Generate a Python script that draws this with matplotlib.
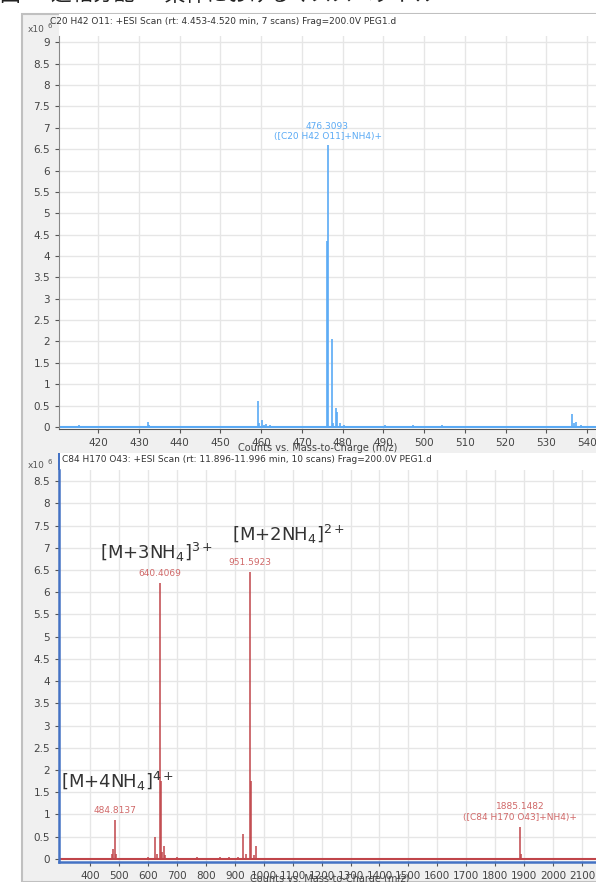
import matplotlib.pyplot as plt
from matplotlib.patches import Rectangle

plt.rcParams['font.family'] = ['DejaVu Sans']

# top spectrum: C20 H42 O11
top_mz = [413.3, 415.3, 432.3, 432.6, 446.3, 459.3, 459.6, 460.3, 460.6, 461.3, 462.3,
          476.22, 476.31, 477.31, 477.6, 478.31, 478.6, 479.3, 480.3, 490.3, 497.3,
          504.3, 518.3, 536.4, 536.7, 537.4, 538.4]
top_int = [0.03, 0.04, 0.12, 0.05, 0.03, 0.6, 0.08, 0.15, 0.05, 0.06, 0.05,
           4.35, 6.6, 2.05, 0.1, 0.45, 0.35, 0.08, 0.05, 0.04, 0.04,
           0.04, 0.03, 0.3, 0.08, 0.12, 0.04]
top_label = "476.3093\n([C20 H42 O11]+NH4)+"
top_title = "C20 H42 O11: +ESI Scan (rt: 4.453-4.520 min, 7 scans) Frag=200.0V PEG1.d"
top_xticks = list(range(420, 541, 10))
top_yticks = [i * 0.5 for i in range(19)]

# bottom spectrum: C84 H170 O43
bot_mz = [385, 475, 480, 484.81, 490, 575, 600, 625.0, 630, 640.41, 645, 650, 655.0, 660,
          700, 770, 800, 850, 880, 910, 930.0, 940, 951.59, 955.6, 965, 975.0,
          1840, 1885.15, 1890, 1930]
bot_int = [0.02, 0.12, 0.22, 0.87, 0.1, 0.02, 0.04, 0.5, 0.12, 6.2, 1.75, 0.15, 0.3, 0.08,
           0.04, 0.04, 0.03, 0.04, 0.04, 0.05, 0.55, 0.12, 6.45, 1.75, 0.08, 0.3,
           0.03, 0.72, 0.1, 0.03]
bot_labels = [(484.8137, 0.87, "484.8137"), (640.4069, 6.2, "640.4069"),
              (951.5923, 6.45, "951.5923"), (1885.1482, 0.72, "1885.1482\n([C84 H170 O43]+NH4)+")]
bot_ions = [("[M+3NH$_4$]$^{3+}$", 435, 6.9), ("[M+2NH$_4$]$^{2+}$", 891, 7.3),
            ("[M+4NH$_4$]$^{4+}$", 300, 1.75)]
bot_title = "C84 H170 O43: +ESI Scan (rt: 11.896-11.996 min, 10 scans) Frag=200.0V PEG1.d"
bot_xticks = list(range(400, 2101, 100))
bot_yticks = [i * 0.5 for i in range(18)]

W, H = 596, 882
fig = plt.figure(figsize=(W / 100, H / 100), dpi=100)


def box(x0, y0, x1, y1):
    # pixel box (top-left origin) -> figure fraction
    return [x0 / W, 1 - y1 / H, (x1 - x0) / W, (y1 - y0) / H]


# gray frame behind both panels
fig.patches.append(Rectangle((22 / W, 0), 1, 1 - 14 / H, transform=fig.transFigure,
                             facecolor='#f0f0f0', edgecolor='#c0c0c0', lw=1.5, zorder=-10))
# white title strips
fig.patches.append(Rectangle((59 / W, 1 - 36 / H), 1, 22 / H, transform=fig.transFigure,
                             facecolor='white', edgecolor='none', zorder=-9))
fig.patches.append(Rectangle((59 / W, 1 - 470 / H), 1, 17 / H, transform=fig.transFigure,
                             facecolor='white', edgecolor='none', zorder=-9))
# blue selection bar beside the lower title
fig.patches.append(Rectangle((58 / W, 1 - 470 / H), 2 / W, 17 / H, transform=fig.transFigure,
                             facecolor='#4472c4', edgecolor='none', zorder=-8))

# clipped caption at the very top
fig.text(0.0, 1 + 5 / H, "図 　 逆相分配 　 条件におけるマススペクトル", fontsize=15,
         family=['Noto Sans CJK JP', 'DejaVu Sans'], va='center', ha='left', color='#222')

tick_kw = dict(labelsize=7.5, labelcolor='#444', color='#555', length=3, width=0.8)

# ---- top panel
ax1 = fig.add_axes(box(59, 36, 596, 429))
ax1.vlines(top_mz, 0, top_int, color='#5aaaf5', lw=1.2)
ax1.axhline(0, color='#5aaaf5', lw=1.5)
ax1.set_xlim(410.4, 542.2)
ax1.set_ylim(-0.05, 9.15)
ax1.set_xticks(top_xticks)
ax1.set_yticks(top_yticks)
ax1.set_yticklabels([f"{v:g}" for v in top_yticks])
ax1.grid(True, color='#e6e6e6', lw=1)
ax1.set_axisbelow(True)
ax1.tick_params(**tick_kw)
for s in ['top', 'right']:
    ax1.spines[s].set_visible(False)
ax1.spines['left'].set_color('#888')
ax1.spines['bottom'].set_color('#555')
ax1.text(476.3093, 6.7, top_label, color='#5aaaf5', fontsize=6.5, ha='center', va='bottom',
         linespacing=1.15)
fig.text(50 / W, 1 - 22 / H, top_title, fontsize=6.5, color='#333', va='center')
fig.text(28 / W, 1 - 29 / H, "x10", fontsize=6.5, color='#555', va='center')
fig.text(47 / W, 1 - 26 / H, "6", fontsize=5, color='#555', va='center')
fig.text(318 / W, 1 - 448 / H, "Counts vs. Mass-to-Charge (m/z)", fontsize=7, color='#444',
         ha='center', va='center')

# ---- bottom panel
ax2 = fig.add_axes(box(59, 470, 596, 862))
ax2.vlines(bot_mz, 0, bot_int, color='#c0454a', lw=1.1)
ax2.axhline(0, color='#c0454a', lw=1.5)
ax2.set_xlim(293, 2148)
ax2.set_ylim(-0.07, 8.75)
ax2.set_xticks(bot_xticks)
ax2.set_yticks(bot_yticks)
ax2.set_yticklabels([f"{v:g}" for v in bot_yticks])
ax2.grid(True, color='#e6e6e6', lw=1)
ax2.set_axisbelow(True)
ax2.tick_params(**tick_kw)
for s in ['top', 'right']:
    ax2.spines[s].set_visible(False)
ax2.spines['left'].set_color('#4472c4')
ax2.spines['bottom'].set_color('#4472c4')
ax2.spines['left'].set_linewidth(1.8)
ax2.spines['bottom'].set_linewidth(1.8)
for x, y, t in bot_labels:
    ax2.text(x, y + 0.12, t, color='#d06868', fontsize=6.5, ha='center', va='bottom',
             linespacing=1.25)
for t, x, y in bot_ions:
    ax2.text(x, y, t, fontsize=13, color='#333', ha='left', va='center')
fig.text(62 / W, 1 - 460 / H, bot_title, fontsize=6.5, color='#333', va='center')
fig.text(28 / W, 1 - 465 / H, "x10", fontsize=6.5, color='#555', va='center')
fig.text(47 / W, 1 - 462 / H, "6", fontsize=5, color='#555', va='center')
fig.text(330 / W, 1 - 879 / H, "Counts vs. Mass-to-Charge (m/z)", fontsize=7, color='#444',
         ha='center', va='center')

fig.savefig("out.png", dpi=100)
